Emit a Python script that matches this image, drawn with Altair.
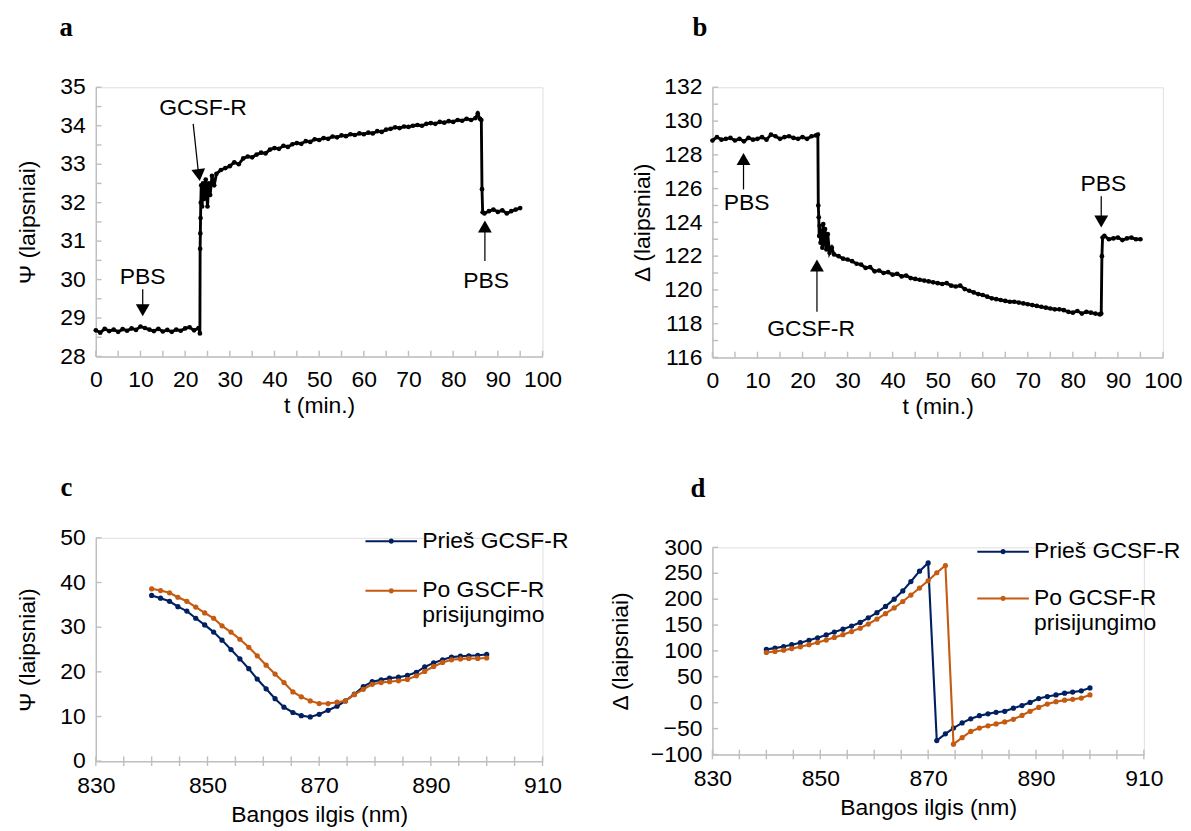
import altair as alt
import pandas as pd

FONT = "Liberation Sans"
GRAY = "#bfbfbf"
BLUE = "#002060"
ORANGE = "#C55A11"

# ---------------- Panel a: Psi vs time ----------------
t_a = [0, 1, 2, 3, 4, 5, 6, 7, 8, 9, 10, 11, 12, 13, 14, 15, 16, 17, 18, 19, 20, 21, 22, 23,
       23.3, 23.35, 23.4, 23.45, 23.5, 23.6, 23.8, 24.0, 24.3, 24.6, 25.0, 25.3, 25.6, 26.0, 26.5,
       27, 28, 29, 30, 31, 32, 33, 34, 35, 36, 37, 38, 39, 40, 41, 42, 43, 44, 45, 46, 47, 48, 49,
       50, 51, 52, 53, 54, 55, 56, 57, 58, 59, 60, 61, 62, 63, 64, 65, 66, 67, 68, 69, 70, 71, 72,
       73, 74, 75, 76, 77, 78, 79, 80, 81, 82, 83, 84, 85, 85.5, 86, 86.3, 86.45, 86.6,
       87, 88, 89, 90, 91, 92, 93, 94, 95]
psi_a = [28.68, 28.62, 28.72, 28.66, 28.70, 28.64, 28.71, 28.67, 28.73, 28.69, 28.78, 28.74,
         28.70, 28.66, 28.72, 28.65, 28.69, 28.64, 28.70, 28.67, 28.73, 28.76, 28.68, 28.74,
         28.60, 30.80, 31.20, 31.60, 32.00, 32.45, 31.90, 32.50, 32.10, 32.60, 31.90, 32.50,
         32.20, 32.70, 32.45,
         32.75, 32.85, 32.90, 32.95, 33.05, 33.00, 33.15, 33.20, 33.18, 33.25, 33.30, 33.28,
         33.38, 33.42, 33.40, 33.48, 33.45, 33.52, 33.55, 33.53, 33.60, 33.58, 33.65,
         33.63, 33.68, 33.66, 33.72, 33.70, 33.75, 33.73, 33.78, 33.76, 33.80, 33.78, 33.82,
         33.80, 33.86, 33.84, 33.90, 33.92, 33.96, 33.94, 33.98, 33.97, 34.00, 34.02,
         34.00, 34.05, 34.07, 34.05, 34.10, 34.08, 34.12, 34.10, 34.15, 34.13, 34.18, 34.15,
         34.20, 34.32, 34.18, 34.15, 32.35, 31.75,
         31.72, 31.78, 31.82, 31.76, 31.80, 31.72, 31.78, 31.82, 31.86]

# ---------------- Panel b: Delta vs time ----------------
t_b = [0, 1, 2, 3, 4, 5, 6, 7, 8, 9, 10, 11, 12, 13, 14, 15, 16, 17, 18, 19, 20, 21, 22, 23,
       23.4, 23.5, 23.6, 23.7, 23.8, 24.0, 24.2, 24.4, 24.6, 24.8, 25.0, 25.3, 25.6, 26.0, 26.5,
       27, 28, 29, 30, 31, 32, 33, 34, 35, 36, 37, 38, 39, 40, 41, 42, 43, 44, 45, 46, 47, 48, 49,
       50, 51, 52, 53, 54, 55, 56, 57, 58, 59, 60, 61, 62, 63, 64, 65, 66, 67, 68, 69, 70, 71, 72,
       73, 74, 75, 76, 77, 78, 79, 80, 81, 82, 83, 84, 85, 86, 86.3, 86.45, 86.6,
       87, 88, 89, 90, 91, 92, 93, 94, 95]
delta_b = [128.85, 129.05, 128.90, 128.95, 129.00, 128.85, 128.95, 128.80, 129.00, 128.90,
           128.95, 129.05, 128.90, 129.20, 129.10, 128.95, 129.05, 129.10, 129.00, 128.95,
           129.05, 128.95, 129.10, 129.15,
           129.20, 125.00, 124.30, 123.20, 123.80, 122.80, 123.50, 122.50, 123.90, 122.70,
           123.60, 122.40, 123.30, 122.20, 122.50,
           122.10, 122.00, 121.85, 121.80, 121.70, 121.55, 121.50, 121.30, 121.35, 121.10,
           121.15, 121.00, 121.05, 120.90, 120.95, 120.80, 120.85, 120.70, 120.65, 120.60,
           120.55, 120.50, 120.45, 120.40, 120.35, 120.40, 120.25, 120.20, 120.25, 120.05,
           119.95, 119.85, 119.75, 119.70, 119.60, 119.50, 119.45, 119.40, 119.35, 119.30,
           119.30, 119.25, 119.20, 119.15, 119.10, 119.05, 119.00, 118.95, 118.90, 118.85,
           118.85, 118.80, 118.70, 118.65, 118.75, 118.60, 118.70, 118.65, 118.60, 118.55,
           118.60, 122.00, 123.10,
           123.20, 123.00, 123.05, 123.10, 122.95, 123.05, 123.10, 123.00, 123.00]

# ---------------- Panels c, d: spectra ----------------
wavelength = [840.0, 841.6, 843.2, 844.7, 846.3, 847.9, 849.5, 851.1, 852.6, 854.2,
              855.8, 857.4, 858.9, 860.5, 862.1, 863.7, 865.3, 866.8, 868.4, 870.0,
              871.6, 873.2, 874.7, 876.3, 877.9, 879.5, 881.1, 882.6, 884.2, 885.8,
              887.4, 888.9, 890.5, 892.1, 893.7, 895.3, 896.8, 898.4, 900.0]
psi_before = [37.1, 36.5, 35.8, 34.6, 33.6, 32.0, 30.5, 28.9, 27.1, 25.0,
              22.9, 20.7, 18.4, 16.2, 14.0, 12.1, 10.9, 10.2, 9.9, 10.5,
              11.4, 12.3, 13.5, 15.0, 16.7, 17.8, 18.2, 18.6, 18.8, 19.2,
              19.9, 21.1, 22.0, 22.7, 23.3, 23.5, 23.6, 23.7, 23.9]
psi_after = [38.6, 38.2, 37.7, 36.7, 35.8, 34.5, 33.2, 32.0, 30.3, 28.9,
             27.3, 25.5, 23.6, 21.5, 19.5, 17.6, 15.5, 14.4, 13.5, 12.9,
             12.9, 13.2, 13.5, 14.9, 16.1, 17.2, 17.6, 17.8, 18.0, 18.3,
             19.1, 20.1, 21.2, 22.1, 22.7, 22.9, 23.0, 23.0, 23.1]
delta_before = [103, 105.5, 108.5, 112, 116, 120.5, 125.5, 131, 136.5, 142,
                148, 155, 164, 174, 186, 200, 216, 234, 254, 270,
                -73, -60, -49, -39, -31, -25, -21.5, -18.5, -16.5, -10.5,
                -5.5, 0.5, 8, 12, 15, 18.5, 20.5, 23, 28.5]
delta_after = [97, 99, 101.5, 104.5, 108, 112, 116.5, 121, 126, 131.5,
               137.5, 144, 152, 161.5, 172, 183, 195.5, 208, 221.5, 235.5,
               251, 265, -80, -67.5, -55.5, -49, -44.5, -41, -37, -32,
               -24.5, -16.5, -9, -2.5, 2, 5, 6.5, 9, 15]

series_c = ["Prieš GCSF-R", "Po GSCF-R prisijungimo"]
series_d = ["Prieš GCSF-R", "Po GCSF-R prisijungimo"]

# tick label lists
ticks_a_x = list(range(0, 101, 10))
ticks_a_y = [28, 29, 30, 31, 32, 33, 34, 35]
minor_a_x = list(range(0, 101, 5))
minor_a_y = [28 + 0.5 * i for i in range(15)]
ticks_b_y = [116, 118, 120, 122, 124, 126, 128, 130, 132]
minor_b_y = list(range(116, 133))
ticks_c_x = [830, 850, 870, 890, 910]
minor_c_x = list(range(830, 911, 5))
ticks_c_y = [0, 10, 20, 30, 40, 50]
ticks_d_y = [-100, -50, 0, 50, 100, 150, 200, 250, 300]

# annotations (data units): label position, arrow shaft, arrow head
ann_a = pd.DataFrame({
    "label": ["GCSF-R", "PBS", "PBS"],
    "x": [24.0, 10.5, 87.4], "y": [34.45, 30.05, 29.95]})
arr_a = pd.DataFrame({
    "x": [21.8, 10.5, 87.1], "y": [34.05, 29.75, 30.48],
    "x2": [23.0, 10.5, 87.1], "y2": [32.75, 29.25, 31.45]})
head_a = pd.DataFrame({
    "x": [23.1, 10.5, 87.1], "y": [32.72, 29.2, 31.38],
    "shape": ["triangle-down", "triangle-down", "triangle-up"], "angle": [353, 0, 0]})

ann_b = pd.DataFrame({
    "label": ["PBS", "GCSF-R", "PBS"],
    "x": [7.6, 21.9, 86.8], "y": [125.15, 117.67, 126.25]})
arr_b = pd.DataFrame({
    "x": [6.9, 23.2, 86.3], "y": [125.95, 118.7, 125.55],
    "x2": [6.9, 23.2, 86.3], "y2": [127.6, 121.4, 124.2]})
head_b = pd.DataFrame({
    "x": [6.9, 23.2, 86.3], "y": [127.75, 121.45, 124.05],
    "shape": ["triangle-up", "triangle-up", "triangle-down"], "angle": [0, 0, 0]})

FS = 24


def make_axis(values, title, orient, tpad=14, lpad=12, xtpad=4):
    if orient == "x":
        lp, tp = lpad, xtpad
    else:
        lp, tp = 11, tpad
    return alt.Axis(values=values, title=title, ticks=False, grid=False,
                    domainColor=GRAY, domainWidth=1.5,
                    labelFont=FONT, labelFontSize=FS, labelColor="black",
                    titleFont=FONT, titleFontSize=FS, titleFontWeight="normal",
                    titleColor="black", labelPadding=lp, titlePadding=tp,
                    labelFlush=False, labelOverlap=False)


def letter(t, dx, offset):
    return alt.TitleParams(text=t, font="Liberation Serif", fontSize=28,
                           fontWeight="bold", anchor="start", frame="group",
                           dx=dx, offset=offset, color="black")


def tick_layers(xenc, yenc, H, minor_x, minor_y, cross=False):
    xt = pd.DataFrame({"x": minor_x})
    yt = pd.DataFrame({"y": minor_y})
    if cross:
        xr = alt.Chart(xt).mark_rule(color=GRAY, strokeWidth=1.5).encode(
            x=xenc, y=alt.value(H - 5), y2=alt.value(H + 5))
    else:
        xr = alt.Chart(xt).mark_rule(color=GRAY, strokeWidth=1.5).encode(
            x=xenc, y=alt.value(H), y2=alt.value(H - 6))
    yr = alt.Chart(yt).mark_rule(color=GRAY, strokeWidth=1.5).encode(
        y=yenc, x=alt.value(0), x2=alt.value(6))
    return [xr, yr]


def ts_panel(t, v, ydom, ylab, ytitle, minor_y, ann, arr, head, W, H, title, tpad):
    xs = alt.Scale(domain=[0, 100], nice=False, zero=False)
    ys = alt.Scale(domain=ydom, nice=False, zero=False)
    xenc = alt.X("x:Q", scale=xs, axis=make_axis(ticks_a_x, "t (min.)", "x"))
    yenc = alt.Y("y:Q", scale=ys, axis=make_axis(ylab, ytitle, "y", tpad))
    df = pd.DataFrame({"x": t, "y": v})
    line = alt.Chart(df).mark_line(color="black", strokeWidth=3).encode(x=xenc, y=yenc)
    pts = alt.Chart(df).mark_circle(color="black", size=24, opacity=1).encode(x=xenc, y=yenc)
    shafts = alt.Chart(arr).mark_rule(color="black", strokeWidth=1.3).encode(
        x=xenc, y=yenc, x2="x2:Q", y2="y2:Q")
    heads = alt.Chart(head).mark_point(filled=True, color="black", size=210, opacity=1,
                                       strokeWidth=0).encode(
        x=xenc, y=yenc, shape=alt.Shape("shape:N", scale=None),
        angle=alt.Angle("angle:Q", scale=None))
    texts = alt.Chart(ann).mark_text(font=FONT, fontSize=FS, color="black").encode(
        x=xenc, y=yenc, text="label:N")
    layers = tick_layers(xenc, yenc, H, minor_a_x, minor_y) + [line, pts, shafts, heads, texts]
    return alt.layer(*layers).properties(width=W, height=H, title=title)


def spec_panel(before, after, names, ydom, ylab, ytitle, W, H, title, lx, ly, rowpad, tpad):
    xs = alt.Scale(domain=[830, 910], nice=False, zero=False)
    ys = alt.Scale(domain=ydom, nice=False, zero=False)
    xenc = alt.X("x:Q", scale=xs, axis=make_axis(ticks_c_x, "Bangos ilgis (nm)", "x",
                                                  lpad=14, xtpad=6))
    yenc = alt.Y("y:Q", scale=ys, axis=make_axis(ylab, ytitle, "y", tpad))
    first = names[1].split(" prisijungimo")[0]
    legend = alt.Legend(title=None, orient="none", legendX=lx, legendY=ly,
                        symbolType="M-1,0L1,0M0.06,0A0.06,0.06,0,1,1,-0.06,0A0.06,0.06,0,1,1,0.06,0Z",
                        symbolSize=2916, symbolStrokeWidth=2.2,
                        labelFont=FONT, labelFontSize=FS, labelColor="black",
                        labelLimit=400, rowPadding=rowpad, labelOffset=4,
                        labelExpr="datum.label == '%s' ? ['%s', 'prisijungimo'] : datum.label"
                                  % (names[1], first))
    cenc = alt.Color("s:N", scale=alt.Scale(domain=names, range=[BLUE, ORANGE]), legend=legend)
    layers = tick_layers(xenc, yenc, H, minor_c_x, ylab, cross=True)
    for name, vals in [(names[0], before), (names[1], after)]:
        df = pd.DataFrame({"x": wavelength, "y": vals, "s": name})
        layers.append(alt.Chart(df).mark_line(strokeWidth=2.2).encode(x=xenc, y=yenc, color=cenc))
        layers.append(alt.Chart(df).mark_circle(size=30, opacity=1).encode(x=xenc, y=yenc, color=cenc))
    return alt.layer(*layers).properties(width=W, height=H, title=title)


pa = ts_panel(t_a, psi_a, [28, 35], ticks_a_y, "Ψ (laipsniai)",
              minor_a_y, ann_a, arr_a, head_a, 468, 282, letter("a", -38, 36), 21)
pb = ts_panel(t_b, delta_b, [116, 132], ticks_b_y, "Δ (laipsniai)",
              minor_b_y, ann_b, arr_b, head_b, 472, 283, letter("b", -21, 36), 10)
pc = spec_panel(psi_before, psi_after, series_c, [0, 50], ticks_c_y,
                "Ψ (laipsniai)", 468, 234, letter("c", -37, 13), 281, -25, 11, 21)
pd_ = spec_panel(delta_before, delta_after, series_d, [-100, 300], ticks_d_y,
                 "Δ (laipsniai)", 452, 217, letter("d", -23, 23), 276, -24, 8, 19)

col1 = alt.vconcat(pa, pc, spacing=190, bounds="flush").resolve_scale(color="independent")
col2 = alt.vconcat(pb, pd_, spacing=199, bounds="flush").resolve_scale(color="independent")

chart = alt.hconcat(col1, col2, spacing=40).resolve_scale(color="independent").properties(
    padding={"left": 8, "top": -14, "right": 0, "bottom": 5}
).configure_view(stroke=None).configure(background="white")

chart.save("out.html", embed_options={"renderer": "svg", "actions": False})
